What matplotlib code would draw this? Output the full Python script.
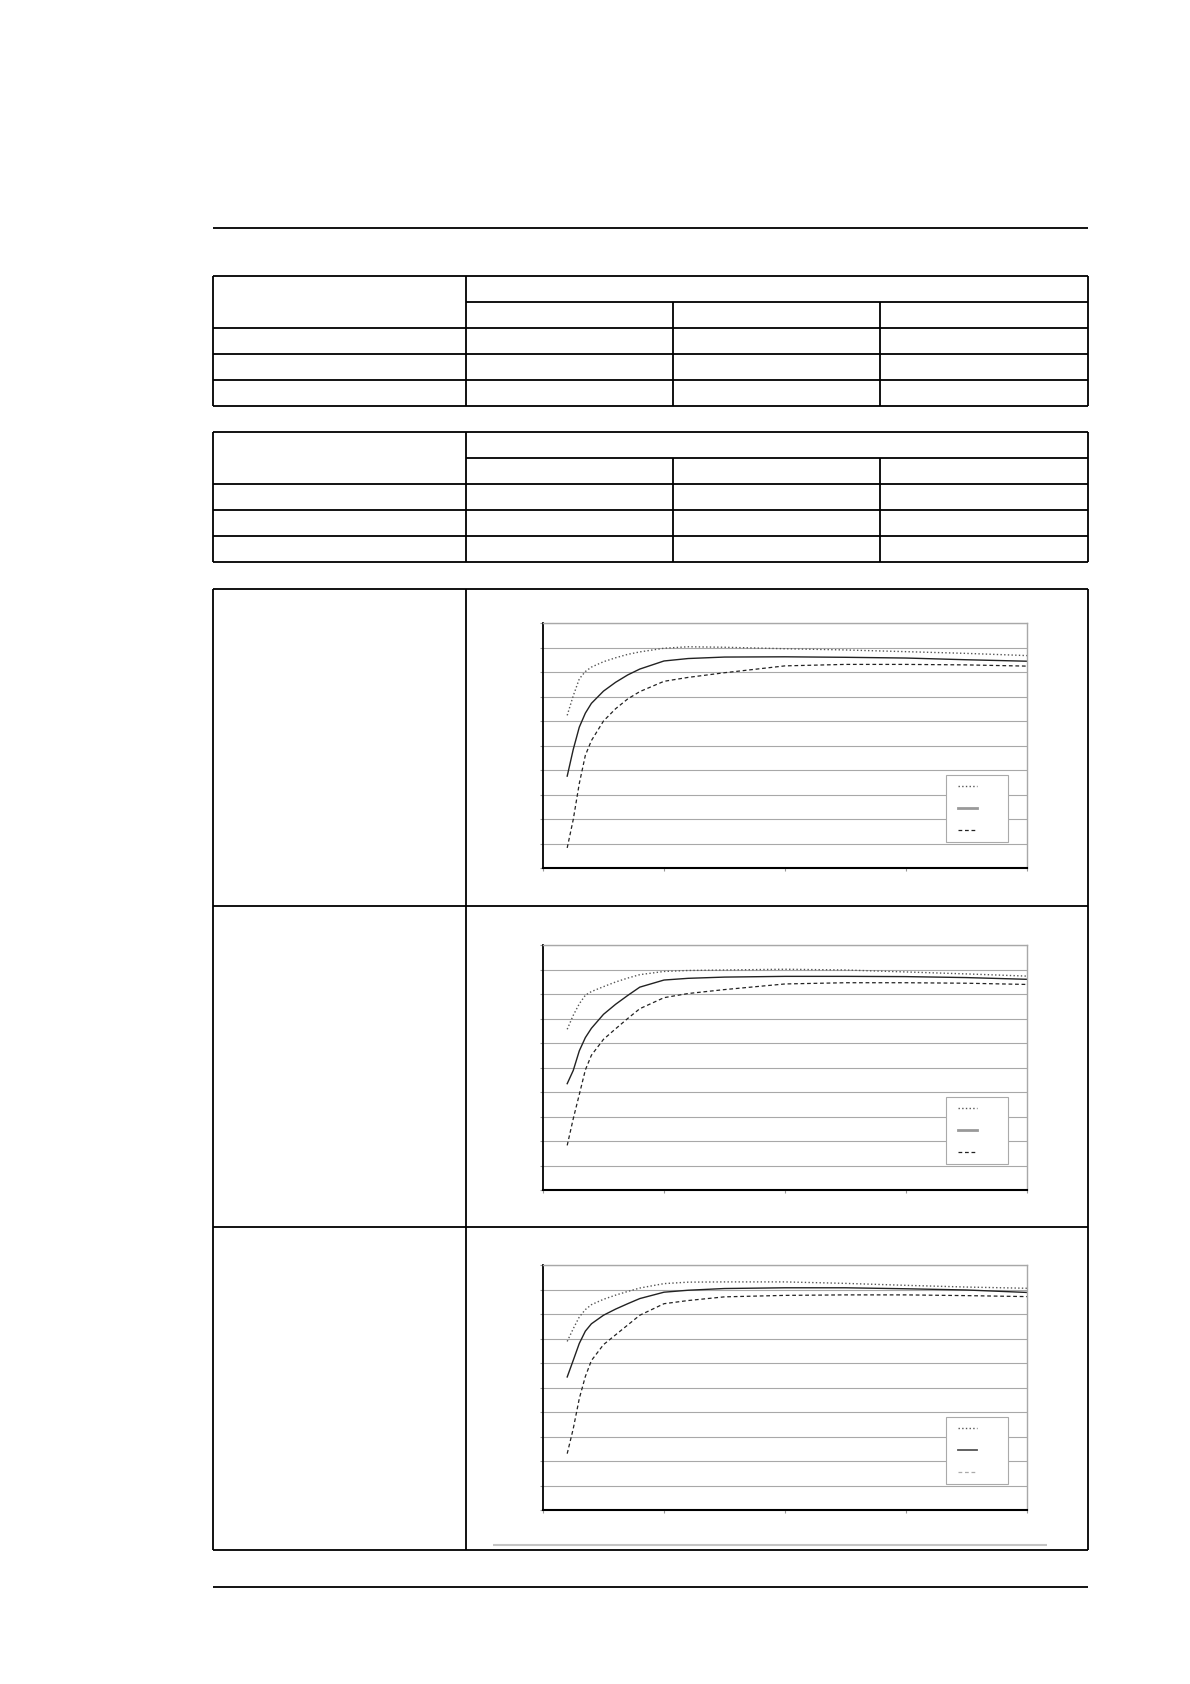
import matplotlib
matplotlib.use('Agg')
import matplotlib.pyplot as plt
from matplotlib.legend_handler import HandlerLine2D

# sample positions along the x axis (shared by the three charts)
x_vals = [2, 2.5, 3, 3.5, 4, 5, 6, 7, 8, 10, 12, 15, 20, 25, 30, 35, 40]
x_ticks = [0, 10, 20, 30, 40]
y_ticks = list(range(11))

# chart 1 (top)
c1_upper = [6.23, 7.03, 7.72, 8.02, 8.20, 8.42, 8.58, 8.72, 8.82, 8.97, 9.03, 9.01, 8.95, 8.90, 8.83, 8.76, 8.67]
c1_mid = [3.75, 4.84, 5.75, 6.32, 6.72, 7.22, 7.58, 7.88, 8.12, 8.45, 8.55, 8.61, 8.62, 8.60, 8.57, 8.50, 8.44]
c1_lower = [0.82, 1.98, 3.45, 4.60, 5.20, 6.00, 6.50, 6.90, 7.20, 7.62, 7.78, 7.97, 8.25, 8.31, 8.31, 8.29, 8.24]

# chart 2 (middle)
c2_upper = [6.56, 7.13, 7.60, 7.95, 8.10, 8.30, 8.49, 8.65, 8.79, 8.92, 8.96, 8.98, 9.01, 8.98, 8.90, 8.82, 8.73]
c2_mid = [4.34, 4.88, 5.68, 6.22, 6.60, 7.17, 7.58, 7.94, 8.28, 8.57, 8.64, 8.69, 8.72, 8.72, 8.71, 8.67, 8.60]
c2_lower = [1.82, 2.91, 3.90, 4.90, 5.50, 6.15, 6.58, 7.00, 7.40, 7.85, 8.02, 8.18, 8.41, 8.46, 8.46, 8.44, 8.39]

# chart 3 (bottom)
c3_upper = [6.88, 7.40, 7.88, 8.18, 8.38, 8.60, 8.77, 8.92, 9.06, 9.24, 9.30, 9.31, 9.31, 9.25, 9.17, 9.10, 9.05]
c3_mid = [5.43, 6.11, 6.80, 7.30, 7.60, 7.95, 8.20, 8.42, 8.63, 8.89, 8.97, 9.04, 9.07, 9.07, 9.03, 8.98, 8.88]
c3_lower = [2.30, 3.32, 4.55, 5.45, 6.10, 6.75, 7.15, 7.55, 7.95, 8.42, 8.55, 8.70, 8.76, 8.78, 8.78, 8.75, 8.71]

W, H = 1190, 1684
fig = plt.figure(figsize=(W / 100, H / 100), dpi=100)

# page frame: rules and empty tables, drawn in pixel coordinates
page = fig.add_axes([0, 0, 1, 1])
page.set_xlim(0, W)
page.set_ylim(H, 0)
page.axis('off')

L, COL1, COL2, COL3, R = 213, 466, 673, 880, 1088
LW = 1.3


def small_table(top, sub, r1, r2, r3, bot):
    page.hlines([top, r1, r2, r3, bot], L, R, color='black', lw=LW)
    page.hlines(sub, COL1, R, color='black', lw=LW)
    page.vlines([L, COL1, R], top, bot, color='black', lw=LW)
    page.vlines([COL2, COL3], sub, bot, color='black', lw=LW)


page.hlines(228, L, R, color='black', lw=LW)
small_table(276, 302, 328, 354, 380, 406)
small_table(432.3, 458.3, 484.3, 510.3, 536.3, 562.3)

# big table holding the three charts
page.hlines([588.5, 906, 1227, 1550], L, R, color='black', lw=LW)
page.vlines([L, COL1, R], 588.5, 1550, color='black', lw=LW)
page.hlines(1545, 493, 1047, color='#c4c4c4', lw=1.5)
page.hlines(1587, L, R, color='black', lw=LW)


def draw_chart(bottom_px, upper, mid, lower, third):
    ax = fig.add_axes([543 / W, 1 - bottom_px / H, 484 / W, 245 / H])
    ax.set_xlim(x_ticks[0], x_ticks[-1])
    ax.set_ylim(y_ticks[0], y_ticks[-1])
    ax.set_xticks(x_ticks)
    ax.set_yticks(y_ticks)
    ax.grid(axis='y', color='#a8a8a8', lw=0.8)
    ax.set_axisbelow(True)
    ax.tick_params(labelleft=False, labelbottom=False, length=2.5,
                   color='#999999', width=0.8)
    for side in ['top', 'right']:
        ax.spines[side].set_color('#a8a8a8')
        ax.spines[side].set_linewidth(1.0)
    ax.spines['left'].set_linewidth(1.3)
    ax.spines['bottom'].set_linewidth(1.5)

    l1, = ax.plot(x_vals, upper, ls=':', color='#555555', lw=1.0)
    l2, = ax.plot(x_vals, mid, ls='-', color='#222222', lw=1.0)
    l3, = ax.plot(x_vals, lower, ls=(0, (3, 2.2)), color='#222222', lw=0.9)

    leg = ax.legend([l1, l2, l3], ['    '] * 3, loc='lower left',
                    bbox_to_anchor=(0.832, 0.106), borderaxespad=0,
                    fontsize=9, labelspacing=0.72, borderpad=0.4,
                    handlelength=2.1, handletextpad=0.8,
                    fancybox=False, framealpha=1, edgecolor='#aaaaaa',
                    handler_map={l: HandlerLine2D(xpad=0.6) for l in [l1, l2, l3]})
    leg.get_frame().set_linewidth(0.8)
    hs = leg.legend_handles
    if third:
        hs[1].set_color('#555555')
        hs[1].set_linewidth(1.3)
        hs[2].set_color('#aaaaaa')
    else:
        hs[1].set_color('#999999')
        hs[1].set_linewidth(2.0)
    return ax


draw_chart(868, c1_upper, c1_mid, c1_lower, False)
draw_chart(1190, c2_upper, c2_mid, c2_lower, False)
draw_chart(1510, c3_upper, c3_mid, c3_lower, True)

fig.savefig('out.png', dpi=100)
